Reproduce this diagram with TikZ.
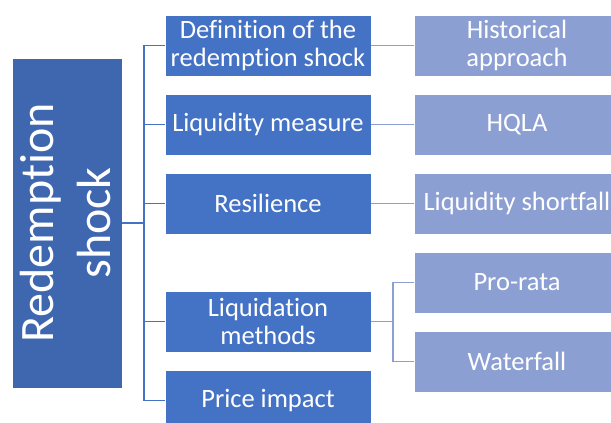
\documentclass[tikz,border=0pt]{standalone}
\usepackage{fontspec}
\setmainfont{Carlito}[Ligatures=NoCommon]
\definecolor{rootblue}{HTML}{3F67B0}
\definecolor{lvlone}{HTML}{4472C4}
\definecolor{lvltwo}{HTML}{8C9FD3}
\begin{document}
\begin{tikzpicture}[x=1pt,y=-1pt,
  onebox/.style={fill=lvlone,draw=white,line width=0.8pt,text=white,minimum width=206pt,minimum height=61pt,inner sep=1pt,align=center,font=\fontsize{26.5}{28.5}\selectfont},
  twobox/.style={fill=lvltwo,draw=white,line width=0.8pt,text=white,minimum width=206pt,minimum height=61pt,inner sep=1pt,align=center,font=\fontsize{26.5}{28.5}\selectfont},
  rootbox/.style={fill=rootblue,draw=white,line width=0.8pt,text=white,minimum width=110pt,minimum height=330pt,inner sep=0pt},
  conone/.style={draw=lvlone,line width=1.6pt},
  contwo/.style={draw=lvltwo,line width=1.6pt}]
\clip (0,0) rectangle (611,423);
\fill[white] (0,0) rectangle (611,423);
\node[rootbox] (root) at (67,223) {};
\node[text=white,rotate=90,align=center,font=\fontsize{48}{57}\selectfont] (roottext) at (66,223) {Redemption\\shock};
\node[onebox] (def) at (268,45.5) {Definition of the\\redemption shock};
\node[onebox] (liq) at (268,124.5) {Liquidity measure};
\node[onebox] (res) at (268,203.5) {Resilience};
\node[onebox] (lm) at (268,321.5) {Liquidation\\methods};
\node[onebox] (pi) at (268,400.5) {Price impact};
\node[twobox] (hist) at (517,45.5) {Historical\\approach};
\node[twobox] (hqla) at (517,124.5) {HQLA};
\node[twobox] (short) at (517,203.5) {Liquidity shortfall};
\node[twobox] (pro) at (517,282.5) {Pro-rata};
\node[twobox] (wat) at (517,361.5) {Waterfall};
\coordinate (trunk) at (144,223);
\coordinate (split) at (393,321.5);
\draw[conone] (root.east) -- (trunk);
\draw[conone] (def.west) -| (trunk);
\draw[conone] (pi.west) -| (trunk);
\draw[conone] (liq.west) -- (liq.west -| trunk);
\draw[conone] (res.west) -- (res.west -| trunk);
\draw[conone] (lm.west) -- (lm.west -| trunk);
\draw[contwo] (def.east) -- (hist.west);
\draw[contwo] (liq.east) -- (hqla.west);
\draw[contwo] (res.east) -- (short.west);
\draw[contwo] (lm.east) -- (split);
\draw[contwo] (pro.west) -| (split) |- (wat.west);
\end{tikzpicture}
\end{document}
